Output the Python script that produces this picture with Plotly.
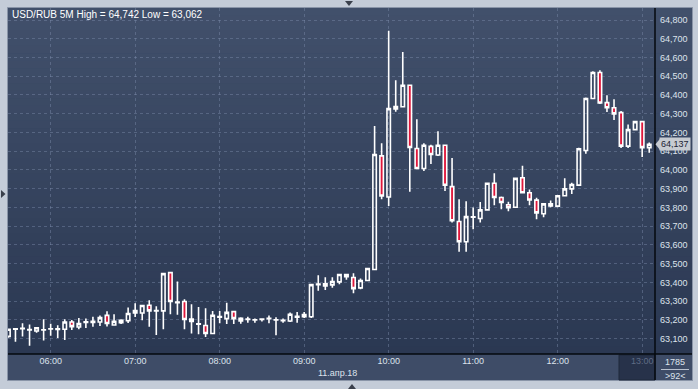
import plotly.graph_objects as go
import pandas as pd

# ---------------- data ----------------
times = pd.date_range("2018-04-11 05:30", periods=92, freq="5min")

opens = [63.112, 63.150, 63.153, 63.148, 63.141, 63.147, 63.151, 63.152, 63.150, 63.189,
         63.162, 63.186, 63.186, 63.189, 63.224, 63.173, 63.185, 63.195, 63.237, 63.237,
         63.278, 63.250, 63.248, 63.452, 63.292, 63.298, 63.205, 63.179, 63.170, 63.127,
         63.214, 63.207, 63.244, 63.194, 63.204, 63.199, 63.202, 63.206, 63.201, 63.196,
         63.194, 63.215, 63.228, 63.217, 63.388, 63.393, 63.387, 63.403, 63.442, 63.426,
         63.371, 63.410, 63.469, 64.075, 63.856, 64.326, 64.337, 64.452, 64.114, 64.008,
         64.126, 64.080, 64.132, 63.911, 63.725, 63.617, 63.748, 63.741, 63.787, 63.929,
         63.853, 63.814, 63.801, 63.958, 63.878, 63.839, 63.766, 63.819, 63.807, 63.862,
         63.899, 63.919, 64.104, 64.381, 64.520, 64.359, 64.332, 64.306, 64.127, 64.215,
         64.258, 64.119]
highs = [63.152, 63.155, 63.182, 63.175, 63.162, 63.204, 63.179, 63.172, 63.204, 63.199,
         63.210, 63.207, 63.217, 63.224, 63.246, 63.230, 63.203, 63.266, 63.289, 63.280,
         63.305, 63.273, 63.447, 63.453, 63.405, 63.310, 63.284, 63.269, 63.262, 63.248,
         63.248, 63.292, 63.244, 63.214, 63.217, 63.208, 63.208, 63.224, 63.214, 63.207,
         63.239, 63.242, 63.242, 63.388, 63.438, 63.428, 63.428, 63.442, 63.442, 63.449,
         63.421, 63.474, 64.235, 64.142, 64.742, 64.478, 64.629, 64.452, 64.270, 64.142,
         64.135, 64.206, 64.132, 64.064, 63.844, 63.833, 63.799, 63.829, 63.933, 63.982,
         63.858, 63.830, 63.960, 64.022, 63.896, 63.851, 63.819, 63.837, 63.865, 63.956,
         63.931, 64.119, 64.386, 64.527, 64.532, 64.398, 64.377, 64.315, 64.243, 64.263,
         64.258, 64.147]
lows = [63.105, 63.083, 63.111, 63.062, 63.132, 63.090, 63.115, 63.104, 63.093, 63.146,
        63.150, 63.157, 63.164, 63.168, 63.165, 63.172, 63.178, 63.184, 63.216, 63.198,
        63.163, 63.120, 63.150, 63.230, 63.227, 63.150, 63.127, 63.124, 63.109, 63.126,
        63.182, 63.178, 63.178, 63.180, 63.185, 63.185, 63.191, 63.182, 63.118, 63.185,
        63.189, 63.185, 63.210, 63.210, 63.356, 63.360, 63.371, 63.390, 63.414, 63.342,
        63.364, 63.410, 63.469, 63.844, 63.808, 64.310, 64.337, 63.883, 64.008, 63.995,
        64.032, 64.075, 63.888, 63.720, 63.563, 63.563, 63.684, 63.719, 63.785, 63.812,
        63.790, 63.780, 63.798, 63.876, 63.812, 63.737, 63.748, 63.801, 63.801, 63.860,
        63.871, 63.917, 64.086, 64.379, 64.352, 64.309, 64.266, 64.117, 64.117, 64.213,
        64.069, 64.092]
closes = [63.150, 63.153, 63.155, 63.146, 63.158, 63.146, 63.153, 63.149, 63.189, 63.164,
          63.180, 63.190, 63.192, 63.212, 63.181, 63.192, 63.198, 63.234, 63.250, 63.277,
          63.248, 63.248, 63.447, 63.298, 63.295, 63.202, 63.192, 63.177, 63.127, 63.225,
          63.218, 63.240, 63.207, 63.208, 63.202, 63.201, 63.204, 63.208, 63.199, 63.198,
          63.230, 63.219, 63.217, 63.388, 63.391, 63.381, 63.405, 63.442, 63.430, 63.367,
          63.410, 63.474, 64.082, 63.861, 64.327, 64.338, 64.452, 64.120, 64.008, 64.132,
          64.082, 64.132, 63.918, 63.729, 63.617, 63.751, 63.750, 63.787, 63.929, 63.853,
          63.826, 63.798, 63.955, 63.878, 63.840, 63.771, 63.819, 63.808, 63.862, 63.899,
          63.922, 64.113, 64.381, 64.520, 64.357, 64.332, 64.299, 64.127, 64.215, 64.258,
          64.119, 64.137]

hour_ticks = ["2018-04-11 06:00", "2018-04-11 07:00", "2018-04-11 08:00", "2018-04-11 09:00",
              "2018-04-11 10:00", "2018-04-11 11:00", "2018-04-11 12:00", "2018-04-11 13:00"]
hour_labels = ["06:00", "07:00", "08:00", "09:00", "10:00", "11:00", "12:00", "13:00"]
price_ticks = [63.1, 63.2, 63.3, 63.4, 63.5, 63.6, 63.7, 63.8, 63.9, 64.0,
               64.1, 64.2, 64.3, 64.4, 64.5, 64.6, 64.7, 64.8]
symbol = "USD/RUB 5M"
date_label = "11.апр.18"
bars_total = "1785"
bars_visible = ">92<"

# ---------------- geometry helpers (pixel -> paper) ----------------
W, H = 698, 389
PL, PR, PT, PB = 8, 655, 8, 354
PW, PH = PR - PL, PB - PT


def px(x):
    return (x - PL) / PW


def py(y):
    return (PB - y) / PH


def fmt(v):
    return f"{v:.3f}".replace(".", ",")


FONT = "Liberation Sans, Arial, sans-serif"
TXT = "#dde3ec"

fig = go.Figure()
fig.add_trace(go.Candlestick(
    x=times, open=opens, high=highs, low=lows, close=closes,
    increasing=dict(line=dict(color="#ffffff", width=1.6), fillcolor="rgba(0,0,0,0)"),
    decreasing=dict(line=dict(color="#ffffff", width=1.6), fillcolor="#e0173b"),
    whiskerwidth=0, showlegend=False, hoverinfo="skip",
))

shapes = []
# dark outer panel
shapes.append(dict(type="rect", xref="paper", yref="paper", x0=px(7.5), x1=px(692.5),
                   y0=py(7.5), y1=py(380.5), fillcolor="#33415c",
                   line=dict(color="#8a95a8", width=1), layer="below"))
# gradient background for plot + right scale
top_c = (65, 80, 107)
bot_c = (43, 56, 82)
N = 46
for i in range(N):
    t = i / (N - 1)
    c = tuple(round(top_c[k] + (bot_c[k] - top_c[k]) * t) for k in range(3))
    y0 = PT + PH * i / N
    y1 = PT + PH * (i + 1) / N
    shapes.append(dict(type="rect", xref="paper", yref="paper", x0=px(8), x1=px(692),
                       y0=py(y1 + 0.5), y1=py(y0), fillcolor="rgb(%d,%d,%d)" % c,
                       line=dict(width=0), layer="below"))
# bottom axis panel
shapes.append(dict(type="rect", xref="paper", yref="paper", x0=px(8), x1=px(692),
                   y0=py(380), y1=py(354), fillcolor="#3e4c67", line=dict(width=0), layer="below"))
# dim box behind the 13:00 label
shapes.append(dict(type="rect", xref="paper", yref="paper", x0=px(619), x1=px(655),
                   y0=py(380), y1=py(355), fillcolor="#27324a",
                   line=dict(color="#1f283b", width=1), layer="below"))
# black separators
shapes.append(dict(type="line", xref="paper", yref="paper", x0=px(8), x1=px(692),
                   y0=py(354), y1=py(354), line=dict(color="#05080e", width=1.5), layer="above"))
shapes.append(dict(type="line", xref="paper", yref="paper", x0=px(655), x1=px(655),
                   y0=py(8), y1=py(380), line=dict(color="#05080e", width=1.5), layer="above"))
# separator under bar count
shapes.append(dict(type="line", xref="paper", yref="paper", x0=px(661), x1=px(689),
                   y0=py(369.5), y1=py(369.5), line=dict(color="#b8c1cf", width=1), layer="above"))
# price marker arrow
shapes.append(dict(type="path", xref="paper", yref="y",
                   path="M %f,%f L %f,%f L %f,%f Z" % (px(655.5), closes[-1], px(660), closes[-1] + 0.03,
                                                      px(660), closes[-1] - 0.03),
                   fillcolor="#c7cbd1", line=dict(width=0), layer="above"))
# window decoration triangles
def tri(points, color="#3a404c"):
    p = "M " + " L ".join("%f,%f" % (px(a), py(b)) for a, b in points) + " Z"
    return dict(type="path", xref="paper", yref="paper", path=p, fillcolor=color,
                line=dict(width=0), layer="above")

shapes.append(tri([(345, 1), (353, 1), (349, 6)]))
shapes.append(tri([(1, 190), (1, 198), (5.5, 194)]))
shapes.append(tri([(348, 389), (356, 389), (352, 384)]))

annotations = [
    dict(text=f"{symbol} High = {fmt(max(highs))} Low = {fmt(min(lows))}",
         xref="paper", yref="paper", x=px(10), y=py(15), xanchor="left", yanchor="middle",
         showarrow=False, font=dict(family=FONT, size=10, color="#ffffff")),
    dict(text=date_label, xref="paper", yref="paper", x=px(337), y=py(373),
         xanchor="center", yanchor="middle", showarrow=False,
         font=dict(family=FONT, size=9, color=TXT)),
    dict(text=bars_total, xref="paper", yref="paper", x=px(675), y=py(362),
         xanchor="center", yanchor="middle", showarrow=False,
         font=dict(family=FONT, size=9, color=TXT)),
    dict(text=bars_visible, xref="paper", yref="paper", x=px(675), y=py(376),
         xanchor="center", yanchor="middle", showarrow=False,
         font=dict(family=FONT, size=9, color=TXT)),
    dict(text=fmt(closes[-1]), xref="paper", yref="y", x=px(659.5), y=closes[-1],
         xanchor="left", yanchor="middle", showarrow=False, bgcolor="#c7cbd1",
         borderpad=1, font=dict(family=FONT, size=9, color="#1c2333")),
]

tick_text = hour_labels[:-1] + ['<span style="color:#5f6c85">%s</span>' % hour_labels[-1]]

fig.update_layout(
    width=W, height=H,
    margin=dict(l=PL, r=W - PR, t=PT, b=H - PB),
    paper_bgcolor="#c4ccd8",
    plot_bgcolor="rgba(0,0,0,0)",
    separators=", ",
    font=dict(family=FONT, size=9, color=TXT),
    shapes=shapes,
    annotations=annotations,
    showlegend=False,
    xaxis=dict(
        type="date",
        range=["2018-04-11 05:29:42", "2018-04-11 13:09:06"],
        tickvals=hour_ticks, ticktext=tick_text,
        showgrid=True, gridcolor="rgba(125,140,170,0.45)", griddash="3px,3px", gridwidth=1,
        ticks="", showline=False, zeroline=False,
        tickfont=dict(family=FONT, size=9, color=TXT),
        rangeslider=dict(visible=False),
        fixedrange=True,
    ),
    yaxis=dict(
        side="right",
        range=[63.018, 64.864],
        tickvals=price_ticks, tickformat=".3f",
        showgrid=True, gridcolor="rgba(125,140,170,0.45)", griddash="3px,3px", gridwidth=1,
        ticks="", showline=False, zeroline=False, ticklabelstandoff=4,
        tickfont=dict(family=FONT, size=9, color=TXT),
        fixedrange=True,
    ),
)

fig.write_html("out.html", config={"displayModeBar": False},
               post_script="document.body.style.margin='0';document.body.style.overflow='hidden';")
